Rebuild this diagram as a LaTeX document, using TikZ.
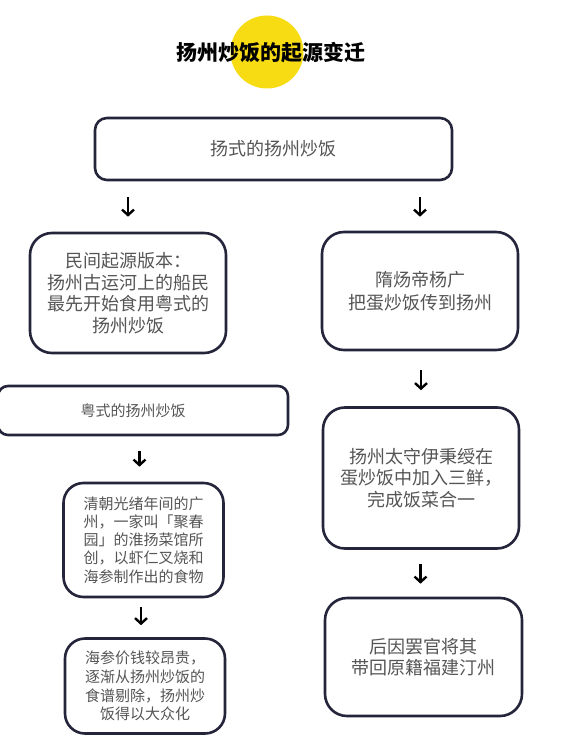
\documentclass[tikz,border=0pt]{standalone}
\usepackage{fontspec}
\setmainfont{Noto Sans CJK SC}
\usetikzlibrary{arrows.meta}
\definecolor{boxline}{HTML}{24243A}
\definecolor{txtgray}{HTML}{555555}
\definecolor{dotyellow}{HTML}{F7DC14}
\tikzset{
  box/.style={draw=boxline, line width=2.6pt, fill=white, text=txtgray, inner sep=0pt, align=center},
  big/.style={font=\fontsize{18}{21.5}\selectfont},
  small/.style={font=\fontsize{15}{18.2}\selectfont},
  arr/.style={line width=2.4pt, black, -{Straight Barb[length=5.5pt,width=12pt,line width=2.4pt]}}
}
\begin{document}
\begin{tikzpicture}[x=1pt,y=-1pt]
\useasboundingbox[fill=white] (0,0) rectangle (579,735);
\node[circle, fill=dotyellow, minimum size=73pt, inner sep=0pt] (dot) at (267,52) {};
\node[font=\fontsize{21}{24}\selectfont\bfseries, text=black] (title) at (271,53) {扬州炒饭的起源变迁};

\node[box, big, rounded corners=12pt, minimum width=357pt, minimum height=62pt] (top) at (273.5,149) {扬式的扬州炒饭};

\node[box, big, rounded corners=22pt, minimum width=196pt, minimum height=120pt] (l1) at (128,293) {民间起源版本：\\扬州古运河上的船民\\最先开始食用粤式的\\扬州炒饭};
\node[box, big, rounded corners=22pt, minimum width=196pt, minimum height=118pt, font=\fontsize{18}{23}\selectfont] (r1) at (420,291) {隋炀帝杨广\\把蛋炒饭传到扬州};

\node[box, rounded corners=10pt, minimum width=290pt, minimum height=49pt, font=\fontsize{15}{18}\selectfont, align=left] (l2) at (143,410.5) {粤式的扬州炒饭\hspace*{20pt}};

\node[box, big, rounded corners=22pt, minimum width=196pt, minimum height=141pt] (r2) at (421,478) {扬州太守伊秉绶在\\蛋炒饭中加入三鲜，\\完成饭菜合一};

\node[box, small, rounded corners=20pt, minimum width=160pt, minimum height=114pt] (l3) at (143.5,540) {清朝光绪年间的广\\州，一家叫「聚春\\园」的淮扬菜馆所\\创，以虾仁叉烧和\\海参制作出的食物};

\node[box, small, rounded corners=20pt, minimum width=160pt, minimum height=95pt, font=\fontsize{15}{18.8}\selectfont] (l4) at (145,686) {海参价钱较昂贵，\\逐渐从扬州炒饭的\\食谱剔除，扬州炒\\饭得以大众化};

\node[box, big, rounded corners=22pt, minimum width=197pt, minimum height=118pt] (r3) at (423.5,657) {后因罢官将其\\带回原籍福建汀州};

\draw[arr, shorten <=16pt, shorten >=15pt] (l1.north |- top.south) -- (l1.north);
\draw[arr, shorten <=16pt, shorten >=14pt] (r1.north |- top.south) -- (r1.north);
\draw[arr, shorten <=19pt, shorten >=16pt] (r2.north |- r1.south) -- (r2.north);
\draw[arr, shorten <=15pt, shorten >=15pt] ([xshift=-4pt]l3.north |- l2.south) -- ([xshift=-4pt]l3.north);
\draw[arr, shorten <=9pt, shorten >=12pt] ([xshift=-4pt]l4.north |- l3.south) -- ([xshift=-4pt]l4.north);
\draw[arr, shorten <=14pt, shorten >=13pt] ([xshift=-3pt]r3.north |- r2.south) -- ([xshift=-3pt]r3.north);
\end{tikzpicture}
\end{document}
